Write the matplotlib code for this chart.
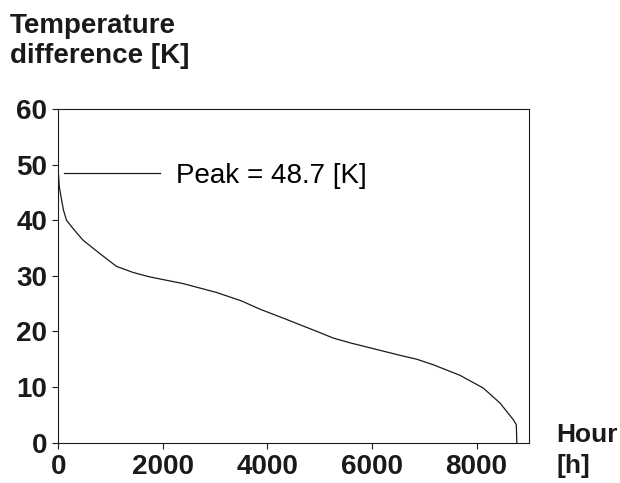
import numpy as np
import matplotlib.pyplot as plt

plt.rcParams['font.family'] = ['Liberation Sans', 'DejaVu Sans']

# duration curve
hours = [0, 20, 60, 100, 157, 300, 475, 794, 1113, 1432, 1751, 2070, 2389, 2708,
         3028, 3500, 3857, 4300, 4622, 5000, 5260, 5600, 5899, 6536, 6856, 7173,
         7684, 8130, 8450, 8704, 8760, 8770]
temps = [48.7, 46.0, 43.8, 41.8, 40.0, 38.3, 36.4, 34.0, 31.7, 30.6, 29.8, 29.2, 28.6, 27.8,
         27.0, 25.5, 24.0, 22.4, 21.2, 19.8, 18.8, 17.9, 17.2, 15.7, 15.0, 14.0,
         12.1, 9.8, 7.1, 4.1, 3.2, 0.0]
xticks = [0, 2000, 4000, 6000, 8000]
yticks = [0, 10, 20, 30, 40, 50, 60]
peak_label = 'Peak = 48.7 [K]'

ink = '#1a1a1a'
fs = 20
fig = plt.figure(figsize=(6.2, 4.83), dpi=100)
ax = fig.add_axes([0.094, 0.0836, 0.759, 0.6907])

ax.plot(hours, temps, color=ink, lw=0.9, label=peak_label)
ax.set_xlim(0, 9000)
ax.set_ylim(0, 60)
ax.set_xticks(xticks)
ax.set_yticks(yticks)
ax.tick_params(direction='out', length=4, width=0.8, colors=ink, labelsize=fs, pad=4)
for lab in ax.get_xticklabels() + ax.get_yticklabels():
    lab.set_fontweight('bold')
for sp in ax.spines.values():
    sp.set_linewidth(0.8)
    sp.set_color(ink)

leg = ax.legend(loc='center left', bbox_to_anchor=(0.0117, 0.80), frameon=False,
                fontsize=fs, handlelength=3.45, handletextpad=0.6,
                borderpad=0, borderaxespad=0)

fig.text(10 / 620, 1 - 33 / 483, 'Temperature', fontsize=fs, fontweight='bold',
         color=ink, ha='left', va='baseline')
fig.text(10 / 620, 1 - 63 / 483, 'difference [K]', fontsize=fs, fontweight='bold',
         color=ink, ha='left', va='baseline')
# axis unit at the lower right, kept a bit smaller so it stays inside the figure
fig.text(556 / 620, 1 - 442 / 483, 'Hour', fontsize=19, fontweight='bold',
         color=ink, ha='left', va='baseline')
fig.text(556 / 620, 1 - 473 / 483, '[h]', fontsize=19, fontweight='bold',
         color=ink, ha='left', va='baseline')

fig.savefig('out.png', dpi=100)
